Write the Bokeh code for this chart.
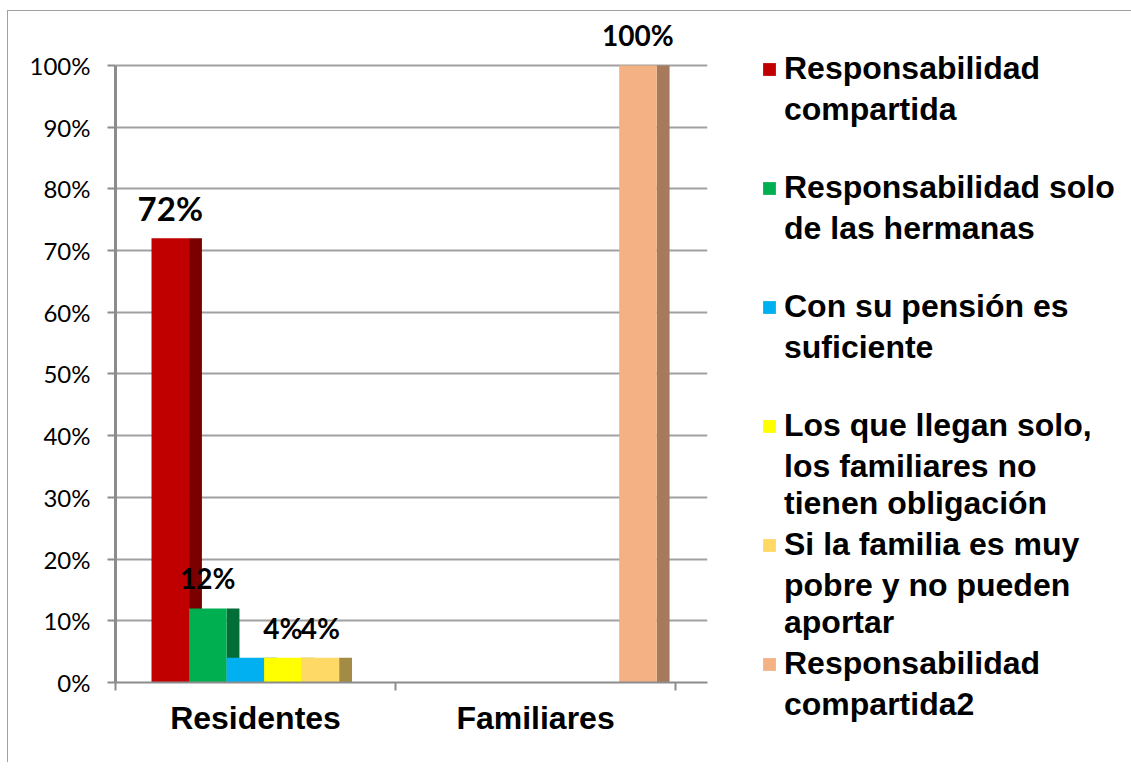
from bokeh.plotting import figure
from bokeh.models import (ColumnDataSource, Range1d, FixedTicker, LabelSet, Legend,
                          LegendItem, PrintfTickFormatter)
from bokeh.embed import file_html
from bokeh.resources import INLINE
from bokeh.core.properties import value

# ---------------- data ----------------
categories = ["Residentes", "Familiares"]
series_names = [
    ["Responsabilidad", "compartida"],
    ["Responsabilidad solo", "de las hermanas"],
    ["Con su pensión es", "suficiente"],
    ["Los que llegan solo,", "los familiares no", "tienen obligación"],
    ["Si la familia es muy", "pobre y no pueden", "aportar"],
    ["Responsabilidad", "compartida2"],
]
series_values = [
    [72, 0],
    [12, 0],
    [4, 0],
    [4, 0],
    [4, 0],
    [0, 100],
]
label_shown = [True, True, False, True, True, True]
front_colors = ["#C00000", "#00B050", "#00B0F0", "#FFFF00", "#FFD966", "#F4B183"]
side_colors = ["#7A0000", "#006E36", "#00739C", "#A6A600", "#A38B45", "#A67A5A"]
y_ticks = [0, 10, 20, 30, 40, 50, 60, 70, 80, 90, 100]

# ---------------- geometry ----------------
BAR_W = 0.134
SIDE_W = 0.046
FIRST_OFF = -0.3044

p = figure(frame_width=592, frame_height=666,
           min_border_left=107, min_border_top=5, min_border_right=418, min_border_bottom=80,
           x_range=Range1d(0, 2.114), y_range=Range1d(0, 107.94),
           output_backend="svg", toolbar_location=None)
p.outline_line_color = None
p.background_fill_color = "white"
p.border_fill_color = "white"

fronts = []
for i, vals in enumerate(series_values):
    off = FIRST_OFF + BAR_W * i
    xs = [j + 0.5 + off for j in range(len(categories))]
    xs_side = [x + BAR_W / 2 + SIDE_W / 2 for x in xs]
    src_side = ColumnDataSource(dict(x=xs_side, top=vals))
    p.vbar(x="x", top="top", bottom=0, width=SIDE_W, source=src_side,
           fill_color=side_colors[i], line_color=None)
for i, vals in enumerate(series_values):
    off = FIRST_OFF + BAR_W * i
    xs = [j + 0.5 + off for j in range(len(categories))]
    src = ColumnDataSource(dict(x=xs, top=vals))
    r = p.vbar(x="x", top="top", bottom=0, width=BAR_W, source=src,
               fill_color=front_colors[i], line_color=None)
    fronts.append(r)

# invisible renderer used for the continuation lines of legend entries
blank = p.vbar(x=[], top=[], width=0.1, fill_alpha=0, line_alpha=0)

# data labels
lx, ly, lt, ls = [], [], [], []
for i, vals in enumerate(series_values):
    if not label_shown[i]:
        continue
    off = FIRST_OFF + BAR_W * i
    for j, v in enumerate(vals):
        if v > 0:
            lx.append(j + 0.5 + off)
            ly.append(v)
            lt.append(f"{v}%")
            ls.append("33px" if v == 72 else "28px")
lsrc = ColumnDataSource(dict(x=lx, y=ly, t=lt, s=ls))
labels = LabelSet(x="x", y="y", text="t", source=lsrc, y_offset=30,
                  text_align="center", text_baseline="middle",
                  text_font=value("Lato"), text_font_style="bold",
                  text_font_size="s", text_color="black")
p.add_layout(labels)

# axes
xa = p.xaxis[0]
xa.ticker = FixedTicker(ticks=[0.5, 1.5], minor_ticks=[0, 1, 2])
xa.major_label_overrides = {0.5: categories[0], 1.5: categories[1]}
xa.major_tick_line_color = None
xa.major_tick_out = 0
xa.minor_tick_out = 8
xa.minor_tick_in = 0
xa.minor_tick_line_color = "#8c8c8c"
xa.minor_tick_line_width = 2
xa.axis_line_color = "#8c8c8c"
xa.axis_line_width = 2
xa.major_label_standoff = 9
xa.major_label_text_font = "Liberation Sans"
xa.major_label_text_font_style = "bold"
xa.major_label_text_font_size = "32px"
xa.major_label_text_color = "black"

ya = p.yaxis[0]
ya.bounds = (0, 100)
ya.ticker = FixedTicker(ticks=y_ticks)
ya.formatter = PrintfTickFormatter(format="%d%%")
ya.major_tick_out = 8
ya.major_tick_in = 0
ya.minor_tick_line_color = None
ya.major_tick_line_color = "#8c8c8c"
ya.major_tick_line_width = 2
ya.axis_line_color = "#8c8c8c"
ya.axis_line_width = 3
ya.major_label_standoff = 17
ya.major_label_text_font = "Lato"
ya.major_label_text_font_size = "24px"
ya.major_label_text_color = "black"

p.xgrid.visible = False
p.ygrid.ticker = FixedTicker(ticks=y_ticks)
p.ygrid.grid_line_color = "#a0a0a0"
p.ygrid.grid_line_width = 2

# legend: each entry = first line with its coloured square + the remaining lines
def rest_text(lines):
    rest = list(lines[1:])
    while len(rest) < 2:
        rest.append(" ")
    return "\n".join(rest)

items = []
for i in range(len(series_names)):
    items.append(LegendItem(label=series_names[i][0], renderers=[fronts[i]]))
    items.append(LegendItem(label=rest_text(series_names[i]), renderers=[blank]))

legend = Legend(items=items, location=(54, -78), orientation="vertical", spacing=4,
                glyph_width=16, glyph_height=16, label_standoff=7,
                padding=0, margin=0, border_line_color=None, background_fill_alpha=0,
                label_text_font="Liberation Sans", label_text_font_style="bold",
                label_text_font_size="32px", label_text_color="black")
p.add_layout(legend, "right")

p.styles = {"border-top": "1px solid #a0a0a0", "border-left": "1px solid #a0a0a0",
            "margin-left": "7px", "margin-top": "10px"}

open("out.html", "w").write(file_html(p, INLINE))
